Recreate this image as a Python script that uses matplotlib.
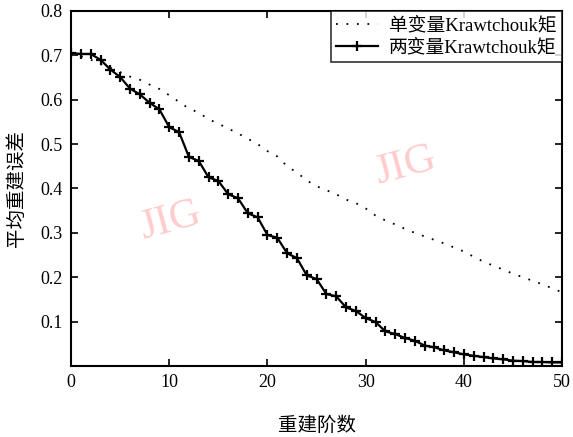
import numpy as np
from matplotlib import pyplot as plt

plt.rcParams['font.family'] = ['Liberation Serif', 'Noto Sans CJK SC']

# reconstruction order
order = np.arange(0, 51)

# single-variable Krawtchouk moments (dotted curve)
err_single = [0.705, 0.698, 0.690, 0.680, 0.672, 0.662, 0.652, 0.645, 0.634, 0.624,
              0.610, 0.595, 0.580, 0.571, 0.556, 0.546, 0.535, 0.524, 0.512, 0.500,
              0.484, 0.472, 0.450, 0.436, 0.418, 0.405, 0.396, 0.387, 0.375, 0.367,
              0.355, 0.339, 0.328, 0.319, 0.309, 0.300, 0.292, 0.284, 0.276, 0.267,
              0.258, 0.246, 0.235, 0.226, 0.217, 0.208, 0.200, 0.192, 0.184, 0.175,
              0.166]

# bivariate Krawtchouk moments (solid curve with + markers)
err_bivar = [0.705, 0.703, 0.703, 0.690, 0.668, 0.651, 0.625, 0.612, 0.593, 0.578,
             0.538, 0.527, 0.471, 0.462, 0.425, 0.417, 0.387, 0.378, 0.344, 0.335,
             0.295, 0.289, 0.254, 0.243, 0.204, 0.196, 0.162, 0.157, 0.132, 0.124,
             0.108, 0.099, 0.078, 0.072, 0.063, 0.057, 0.046, 0.042, 0.035, 0.031,
             0.026, 0.023, 0.020, 0.017, 0.015, 0.012, 0.011, 0.009, 0.009, 0.008,
             0.008]

xticks = [0, 10, 20, 30, 40, 50]
yticks = [0, 0.1, 0.2, 0.3, 0.4, 0.5, 0.6, 0.7, 0.8]

fig = plt.figure(figsize=(5.73, 4.37), dpi=100)
ax = fig.add_axes([0.124, 0.1625, 0.857, 0.8125])

ax.plot(order, err_single, color='k', linewidth=1.3, linestyle=(0, (1, 4.8)),
        label='单变量Krawtchouk矩')
ax.plot(order, err_bivar, color='k', linewidth=1.6, marker='+', markersize=7,
        markeredgewidth=1.6, label='两变量Krawtchouk矩')

# watermarks
ax.text(0.297, 0.495, 'JIG', transform=fig.transFigure, fontsize=31, color='#ffcccc',
        rotation=15, ha='center', va='center', zorder=0)
ax.text(0.707, 0.62, 'JIG', transform=fig.transFigure, fontsize=31, color='#ffcccc',
        rotation=15, ha='center', va='center', zorder=0)

ax.set_xlim(0, 50)
ax.set_ylim(0, 0.8)
ax.set_xticks(xticks)
ax.set_yticks(yticks)
ax.set_yticklabels(['', '0.1', '0.2', '0.3', '0.4', '0.5', '0.6', '0.7', '0.8'])
ax.tick_params(direction='in', length=5, width=1.2, top=True, right=True,
               labelsize=13, pad=6)
for s in ax.spines.values():
    s.set_linewidth(1.5)

ax.set_xlabel('重建阶数', fontsize=14, labelpad=18)
ax.set_ylabel('平均重建误差', fontsize=14, labelpad=10)

leg = ax.legend(loc='upper right', borderaxespad=0, fontsize=13.5, frameon=True,
                fancybox=False, handlelength=2.2, handletextpad=0.6,
                borderpad=0.3, labelspacing=0.25)
leg.get_frame().set_edgecolor('k')
leg.get_frame().set_linewidth(1.2)

fig.savefig('out.png', dpi=100)
